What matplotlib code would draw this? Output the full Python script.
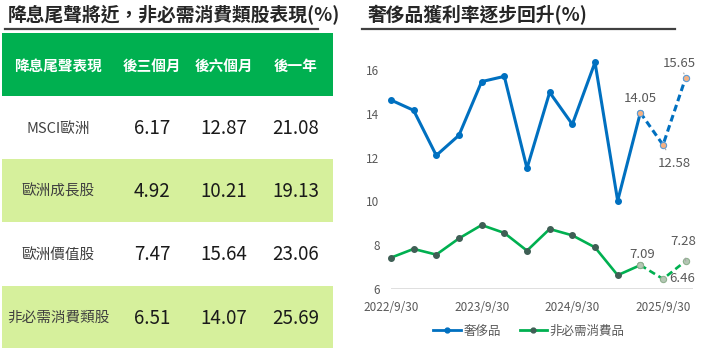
import matplotlib
matplotlib.use('Agg')
import matplotlib.pyplot as plt
from matplotlib.patches import Rectangle
from matplotlib.lines import Line2D

plt.rcParams['font.family'] = ['Noto Sans CJK TC', 'DejaVu Sans']

# left table
table_title = '降息尾聲將近，非必需消費類股表現(%)'
col_names = ['降息尾聲表現', '後三個月', '後六個月', '後一年']
row_names = ['MSCI歐洲', '歐洲成長股', '歐洲價值股', '非必需消費類股']
after_3m = [6.17, 4.92, 7.47, 6.51]
after_6m = [12.87, 10.21, 15.64, 14.07]
after_1y = [21.08, 19.13, 23.06, 25.69]

# right chart
chart_title = '奢侈品獲利率逐步回升(%)'
quarters = ['2022/9/30', '2022/12/31', '2023/3/31', '2023/6/30', '2023/9/30', '2023/12/31',
            '2024/3/31', '2024/6/30', '2024/9/30', '2024/12/31', '2025/3/31', '2025/6/30',
            '2025/9/30', '2025/12/31']
luxury = [14.63, 14.16, 12.10, 13.02, 15.47, 15.71, 11.51, 14.98, 13.52, 16.35, 10.03, 14.05]
luxury_est = [14.05, 12.58, 15.65]
consumer = [7.43, 7.83, 7.57, 8.31, 8.92, 8.56, 7.75, 8.74, 8.45, 7.90, 6.63, 7.09]
consumer_est = [7.09, 6.46, 7.28]

BLUE = '#0070C0'
GREEN = '#00B050'
GRAY = '#595959'

fig = plt.figure(figsize=(7.01, 3.51), dpi=100)

# ---- table drawn in pixel coords ----
tab = fig.add_axes([0, 0, 1, 1])
tab.set_xlim(0, 701)
tab.set_ylim(351, 0)
tab.axis('off')

tab.text(8, 15, table_title, fontsize=13.5, fontweight='bold', color='#262626', va='center', ha='left')
tab.plot([5, 318], [29, 29], color='#404040', lw=1.6)
tab.text(368, 15, chart_title, fontsize=13.5, fontweight='bold', color='#262626', va='center', ha='left')
tab.plot([362, 675], [29, 29], color='#404040', lw=1.6)

col_x = [58, 152, 224, 296]
row_top = [96, 159, 222, 286]
row_h = [63, 63, 64, 62]
tab.add_patch(Rectangle((2, 33), 331, 63, color=GREEN, lw=0))
for cx, name in zip(col_x, col_names):
    tab.text(cx, 66, name, color='white', fontsize=10.5, fontweight='bold', ha='center', va='center')

for i, name in enumerate(row_names):
    if i % 2 == 1:
        tab.add_patch(Rectangle((2, row_top[i]), 331, row_h[i], color='#D6F09C', lw=0))
    yc = row_top[i] + row_h[i] / 2 + 1
    tab.text(col_x[0], yc, name, color='#404040', fontsize=10.5, ha='center', va='center')
    for cx, v in zip(col_x[1:], [after_3m[i], after_6m[i], after_1y[i]]):
        tab.text(cx, yc, f'{v:.2f}', color='#1a1a1a', fontsize=13.5, ha='center', va='center')

# ---- line chart ----
ax = fig.add_axes([383 / 701, 62 / 351, 309.5 / 701, 236.5 / 351])
ax.set_xlim(-0.35, 13.3)
ax.set_ylim(6, 16.8)
for s in ax.spines.values():
    s.set_visible(False)
ax.hlines(6, 0, 13.3, color='#D9D9D9', lw=1.2)

n = len(luxury)
x_act = list(range(n))
x_est = list(range(n - 1, n - 1 + len(luxury_est)))

ax.plot(x_act, luxury, color=BLUE, lw=2.2, marker='o', ms=4, clip_on=False, zorder=3)
ax.plot(x_est, luxury_est, color=BLUE, lw=2.2, ls=(0, (2.2, 1.3)), marker='o', ms=4.5,
        mfc='#F4B183', mec='#5B9BD5', mew=0.8, clip_on=False, zorder=3)
ax.plot(x_act, consumer, color=GREEN, lw=1.9, marker='o', ms=4, mfc='#3F5F55', mec='#3F5F55',
        clip_on=False, zorder=3)
ax.plot(x_est, consumer_est, color=GREEN, lw=1.9, ls=(0, (2.5, 1.5)), marker='o', ms=4.5,
        mfc='#B4C7B4', mec='#8FB08F', mew=0.8, clip_on=False, zorder=3)

label_offsets_lux = [(0, 14), (11, -19), (-6, 14)]
label_offsets_con = [(2, 11), (19, 0), (-2, 19)]
for xi, v, off in zip(x_est, luxury_est, label_offsets_lux):
    lead = dict(arrowstyle='-', color='#A6A6A6', lw=0.8, shrinkA=4, shrinkB=3) if off[0] != 0 else None
    ax.annotate(f'{v:.2f}', (xi, v), xytext=off, textcoords='offset pixels', ha='center', va='center',
                fontsize=9.5, color=GRAY, arrowprops=lead, annotation_clip=False)
for xi, v, off in zip(x_est, consumer_est, label_offsets_con):
    lead = dict(arrowstyle='-', color='#A6A6A6', lw=0.8, shrinkA=5, shrinkB=3) if off[0] < 0 else None
    ax.annotate(f'{v:.2f}', (xi, v), xytext=off, textcoords='offset pixels', ha='center', va='center',
                fontsize=9.5, color=GRAY, arrowprops=lead, annotation_clip=False)

ax.set_yticks([6, 8, 10, 12, 14, 16])
ax.set_xticks(range(0, len(quarters), 4))
ax.set_xticklabels(quarters[::4])
ax.tick_params(length=0, colors=GRAY, labelsize=8.5)
ax.tick_params(axis='x', pad=8.5)
ax.tick_params(axis='y', pad=2.5)

handles = [Line2D([], [], color=BLUE, lw=2, marker='o', ms=3.5),
           Line2D([], [], color=GREEN, lw=2, marker='o', ms=3.5, mfc='#3F5F55', mec='#3F5F55')]
fig.legend(handles, ['奢侈品', '非必需消費品'], loc='center', bbox_to_anchor=(529 / 701, 1 - 331 / 351),
           ncol=2, frameon=False, fontsize=9, handlelength=2.2, handletextpad=0.2, columnspacing=1.5,
           labelcolor=GRAY)

fig.savefig('out.png', dpi=100)
